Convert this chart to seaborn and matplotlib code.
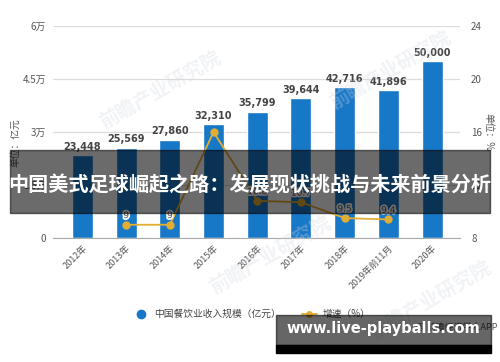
import numpy as np
import pandas as pd
import matplotlib
matplotlib.use("Agg")
import matplotlib.pyplot as plt
import matplotlib.patheffects as pe
from matplotlib.lines import Line2D
from matplotlib.patches import Rectangle
import seaborn as sns

# 数据
years = ["2012年", "2013年", "2014年", "2015年", "2016年", "2017年",
         "2018年", "2019年前11月", "2020年"]
revenue = [23448, 25569, 27860, 32310, 35799, 39644, 42716, 41896, 50000]
growth = [np.nan, 9.0, 9.0, 16.0, 10.8, 10.7, 9.5, 9.4, np.nan]
growth_labels = ["", "9", "9", "", "10.8", "10.7", "9.5", "9.4", ""]
left_ticks = [0, 15000, 30000, 45000, 60000]
left_ticklabels = ["0", "1.5万", "3万", "4.5万", "6万"]
right_ticks = [8, 12, 16, 20, 24]

title = "中国美式足球崛起之路：发展现状挑战与未来前景分析"
site = "www.live-playballs.com"

sns.set_style("white")
plt.rcParams['font.family'] = ['Noto Sans CJK SC', 'DejaVu Sans']

W, H = 500, 362
fig = plt.figure(figsize=(5, 3.62), dpi=100)
ax = fig.add_axes([53 / W, 1 - 238 / H, (460 - 53) / W, (238 - 26) / H])

df = pd.DataFrame({"year": years, "revenue": revenue})
sns.barplot(data=df, x="year", y="revenue", color="#1878c8", width=0.48,
            saturation=1, ax=ax)
ax.set_xlim(-0.675, 8.64)
ax.set_ylim(0, 60000)
ax.set_yticks(left_ticks)
ax.set_yticklabels(left_ticklabels)
ax.yaxis.grid(True, color="#dcdcdc", lw=0.9)
ax.set_axisbelow(True)
for s in ["top", "right", "left"]:
    ax.spines[s].set_visible(False)
ax.spines["bottom"].set_color("#aaaaaa")
ax.tick_params(axis="y", length=0, labelsize=7, colors="#555555", pad=5)
ax.tick_params(axis="x", length=3, color="#aaaaaa", labelsize=6.5,
               colors="#555555", pad=1)
plt.setp(ax.get_xticklabels(), rotation=45, ha="right", rotation_mode="anchor")
ax.set_xlabel("")
ax.set_ylabel("单位：亿元", fontsize=7, color="#555555")
ax.yaxis.set_label_coords(-33 / 407, 0.45)

for i, v in enumerate(revenue):
    ax.text(i, v + 900, f"{v:,}", ha="center", va="bottom", fontsize=7,
            fontweight="bold", color="#444444", family="DejaVu Sans")

ax2 = ax.twinx()
idx = np.arange(len(years))
sns.lineplot(x=idx, y=growth, ax=ax2, color="#e3ac32", lw=1.3, marker="o",
             markersize=6, markeredgewidth=0)
ax2.set_ylim(8, 24)
ax2.set_yticks(right_ticks)
for s in ["top", "right", "left", "bottom"]:
    ax2.spines[s].set_visible(False)
ax2.tick_params(axis="y", length=0, labelsize=7, colors="#555555", pad=8)
ax2.set_ylabel("单位：%", fontsize=7, color="#555555", rotation=-90)
ax2.yaxis.set_label_coords(1 + 33 / 407, 0.5)
for i, (g, lab) in enumerate(zip(growth, growth_labels)):
    if lab:
        ax2.text(i, g + 0.35, lab, ha="center", va="bottom", fontsize=6.5,
                 color="#555555", family="DejaVu Sans",
                 path_effects=[pe.withStroke(linewidth=2.5, foreground="white")])

# 水印
for (wx, wy) in [(160, 90), (390, 70), (270, 255), (430, 300)]:
    fig.text(wx / W, 1 - wy / H, "前瞻产业研究院", fontsize=14, rotation=30,
             color="#cfd6de", alpha=0.3, ha="center", va="center",
             fontweight="bold")

# 图例
handles = [
    Line2D([], [], ls="none", marker="o", color="#1878c8", markersize=6),
    Line2D([], [], color="#e3ac32", lw=1.3, marker="o", markersize=4),
]
fig.legend(handles, ["中国餐饮业收入规模（亿元）", "增速（%）"],
           loc="center", bbox_to_anchor=(252 / W, 1 - 314 / H), ncol=2,
           frameon=False, fontsize=7, handlelength=1.5, columnspacing=2.2,
           handletextpad=0.6, labelcolor="#444444")
fig.text(497 / W, 1 - 327 / H, "@ 前瞻经济学人APP", fontsize=6.5,
         color="#555555", ha="right", va="center")

# 标题遮罩
fig.patches.append(Rectangle((10 / W, 1 - 213 / H), 480 / W, 63 / H,
                             transform=fig.transFigure, color="black",
                             alpha=0.58, zorder=10))
fig.text(250 / W, 1 - 185 / H, title, fontsize=14.5, fontweight="bold",
         color="white", ha="center", va="center", zorder=11)

fig.patches.append(Rectangle((276 / W, 1 - 345 / H), 215 / W, 30 / H,
                             transform=fig.transFigure, color="black",
                             alpha=0.6, zorder=10))
fig.patches.append(Rectangle((276 / W, 1 - 353 / H), 215 / W, 8 / H,
                             transform=fig.transFigure, color="black",
                             zorder=10))
fig.text(383 / W, 1 - 328 / H, site, fontsize=10.5, fontweight="bold",
         color="white", ha="center", va="center", family="DejaVu Sans",
         zorder=11)

fig.savefig("out.png", dpi=100)
